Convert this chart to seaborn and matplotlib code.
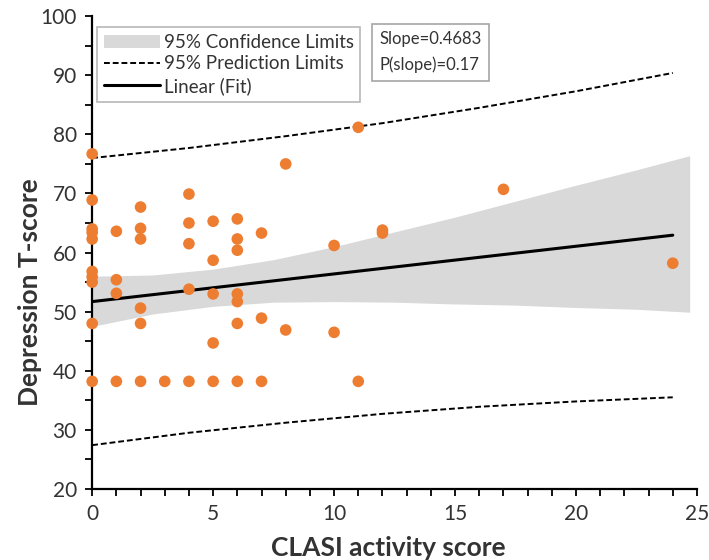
import numpy as np
import pandas as pd
import matplotlib.pyplot as plt
import seaborn as sns
from matplotlib.lines import Line2D
from matplotlib.patches import Patch
from matplotlib.ticker import MultipleLocator

# scatter data (CLASI activity score vs Depression T-score)
clasi = [0, 0, 0, 0, 0, 0, 0, 0, 0, 0,
         1, 1, 1, 1,
         2, 2, 2, 2, 2, 2,
         3,
         4, 4, 4, 4, 4,
         5, 5, 5, 5, 5,
         6, 6, 6, 6, 6, 6, 6,
         7, 7, 7,
         8, 8,
         10, 10,
         11, 11,
         12, 12,
         17,
         24]
depression = [76.7, 68.9, 64.0, 63.4, 62.3, 56.8, 55.9, 55.0, 48.0, 38.2,
              63.6, 55.4, 53.1, 38.2,
              67.7, 64.1, 62.3, 50.6, 48.0, 38.2,
              38.2,
              69.9, 65.0, 61.5, 53.8, 38.2,
              65.3, 58.7, 53.0, 44.7, 38.2,
              65.7, 62.3, 60.4, 53.0, 51.7, 48.0, 38.2,
              63.3, 48.9, 38.2,
              75.0, 46.9,
              61.2, 46.5,
              81.2, 38.2,
              63.8, 63.3,
              70.7,
              58.2]

# fitted line end points
fit_x = [0, 24]
fit_y = [51.7, 62.94]

# 95% confidence band (read at several x)
band_x = [0, 2.5, 5, 7.5, 10, 12.5, 15, 17.5, 20, 22.5, 24.7]
band_hi = [56.0, 56.2, 57.2, 58.8, 61.0, 63.5, 66.0, 68.7, 71.4, 74.0, 76.4]
band_lo = [47.5, 49.6, 50.9, 51.6, 51.7, 51.6, 51.3, 51.1, 50.7, 50.4, 49.9]

# 95% prediction limits
pred_x = [0, 4, 8, 12, 16, 20, 24]
pred_hi = [76.0, 77.7, 79.7, 81.9, 84.5, 87.3, 90.4]
pred_lo = [27.4, 29.5, 31.2, 32.7, 33.9, 34.8, 35.5]

df = pd.DataFrame({'CLASI': clasi, 'Depression': depression})

sns.set_style('white')
plt.rcParams['font.family'] = ['Lato', 'DejaVu Sans']

fig = plt.figure(figsize=(7.09, 5.6), dpi=100)
ax = fig.add_axes([0.130, 0.127, 0.853, 0.844])

orange = '#ED7D31'
dash = (0, (3, 1.5))
ax.fill_between(band_x, band_lo, band_hi, color='#d9d9d9', linewidth=0, zorder=1)
sns.lineplot(x=pred_x, y=pred_hi, ax=ax, color='black', linewidth=1.4,
             linestyle=dash, zorder=2)
sns.lineplot(x=pred_x, y=pred_lo, ax=ax, color='black', linewidth=1.4,
             linestyle=dash, zorder=2)
sns.lineplot(x=fit_x, y=fit_y, ax=ax, color='black', linewidth=2.2, zorder=3)
sns.scatterplot(data=df, x='CLASI', y='Depression', ax=ax, color=orange, s=70,
                edgecolor='none', zorder=4, clip_on=False)

ax.set_xlim(0, 25)
ax.set_ylim(20, 100)
ax.xaxis.set_major_locator(MultipleLocator(5))
ax.xaxis.set_minor_locator(MultipleLocator(1))
ax.yaxis.set_major_locator(MultipleLocator(10))
ax.yaxis.set_minor_locator(MultipleLocator(5))
for side in ['top', 'right']:
    ax.spines[side].set_visible(False)
for side in ['left', 'bottom']:
    ax.spines[side].set_color('black')
    ax.spines[side].set_linewidth(1.6)
ax.tick_params(which='both', direction='out', color='black', width=1.3,
               length=5, left=True, bottom=True)
ax.tick_params(which='major', labelsize=15, pad=6, labelcolor='#333333')

ax.set_xlabel('CLASI activity score', fontsize=19, fontweight='bold',
              color='#333333')
ax.set_ylabel('Depression T-score', fontsize=19, fontweight='bold',
              color='#333333')
ax.xaxis.set_label_coords(0.49, -0.125)
ax.yaxis.set_label_coords(-0.102, 0.416)
ax.xaxis.label.set_va('center')
ax.yaxis.label.set_va('center')

handles = [Patch(facecolor='#d9d9d9', edgecolor='none'),
           Line2D([], [], color='black', linewidth=1.4, linestyle=dash),
           Line2D([], [], color='black', linewidth=2.2)]
labels = ['95% Confidence Limits', '95% Prediction Limits', 'Linear (Fit)']
leg = ax.legend(handles, labels, loc='upper left', bbox_to_anchor=(0.008, 0.977),
                frameon=True, fancybox=False, fontsize=13.5, handlelength=3.0,
                handletextpad=0.2, borderpad=0.35, labelspacing=0.25,
                borderaxespad=0)
leg.get_frame().set_edgecolor('#a6a6a6')
leg.get_frame().set_linewidth(1.2)
for t in leg.get_texts():
    t.set_color('#333333')

ax.text(0.475, 0.968, 'Slope=0.4683\nP(slope)=0.17', transform=ax.transAxes,
        ha='left', va='top', fontsize=12, color='#333333', linespacing=1.7,
        bbox=dict(boxstyle='square,pad=0.45', facecolor='white',
                  edgecolor='#a6a6a6', linewidth=1.2))

fig.savefig('out.png', dpi=100)
